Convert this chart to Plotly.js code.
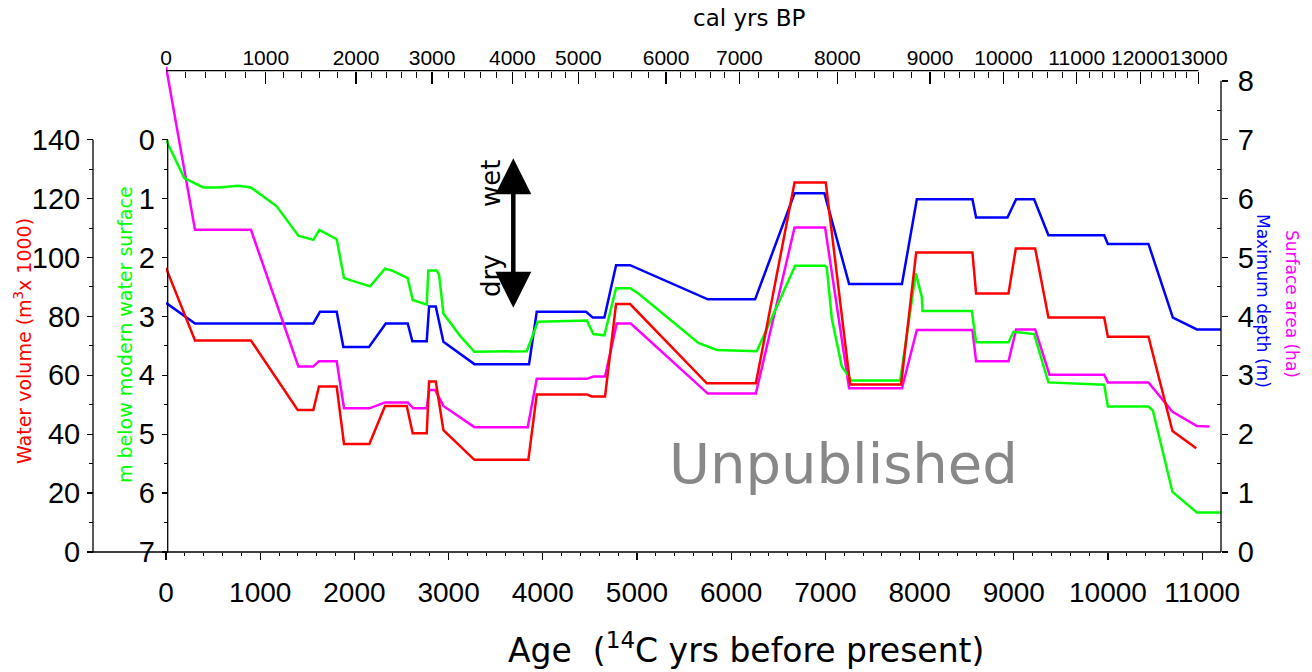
<!DOCTYPE html>
<html><head><meta charset="utf-8">
<script src="https://cdn.plot.ly/plotly-3.0.1.min.js"></script>
<style>html,body{margin:0;padding:0;background:#fff;} #chart{width:1312px;height:672px;}</style>
</head><body><div id="chart"></div>
<script>
// ---------------- data (ages in 14C yrs BP) ----------------
const redAge = [0, 308, 902, 1398, 1564, 1624, 1812, 1890, 2159, 2325, 2556, 2619, 2768, 2793, 2864, 2945, 3274, 3847, 3936, 4467, 4520, 4661, 4778, 4927, 5741, 6262, 6673, 7004, 7263, 7804, 7964, 8561, 8600, 8944, 9022, 9227, 9368, 9960, 9999, 10430, 10685, 10937];
const redVolume = [96.5, 71.8, 71.8, 48.2, 48.2, 56.2, 56.2, 36.7, 36.7, 49.6, 49.6, 40.3, 40.3, 57.9, 57.9, 41.4, 31.3, 31.3, 53.5, 53.5, 52.8, 52.8, 84.2, 84.2, 57.3, 57.3, 125.5, 125.5, 56.9, 56.9, 101.7, 101.7, 87.8, 87.8, 103.1, 103.1, 79.6, 79.6, 73.1, 73.1, 41.1, 35.2];

const greenAge = [0, 194, 396, 555, 768, 902, 1175, 1405, 1564, 1628, 1812, 1890, 2166, 2325, 2396, 2566, 2619, 2768, 2785, 2874, 2899, 2945, 3122, 3274, 3830, 3947, 4467, 4537, 4654, 4778, 4927, 5015, 5652, 5847, 6272, 6679, 6997, 7015, 7068, 7174, 7280, 7794, 7960, 8024, 8031, 8555, 8600, 8944, 8997, 9216, 9368, 9960, 9999, 10430, 10477, 10685, 10944, 11200];
const greenBelow = [0, 0.65, 0.81, 0.81, 0.78, 0.81, 1.13, 1.63, 1.70, 1.53, 1.69, 2.35, 2.49, 2.19, 2.22, 2.35, 2.72, 2.80, 2.22, 2.22, 2.29, 2.95, 3.33, 3.60, 3.59, 3.09, 3.07, 3.30, 3.32, 2.52, 2.52, 2.61, 3.45, 3.57, 3.59, 2.14, 2.14, 2.17, 3.03, 3.85, 4.09, 4.09, 2.27, 2.67, 2.91, 2.91, 3.44, 3.44, 3.26, 3.30, 4.12, 4.16, 4.53, 4.53, 4.60, 5.98, 6.33, 6.33];

const blueAge = [0, 308, 1564, 1635, 1812, 1883, 2155, 2333, 2566, 2615, 2768, 2793, 2864, 2945, 3274, 3854, 3936, 4460, 4531, 4654, 4778, 4927, 5752, 6254, 6673, 6990, 7252, 7813, 7971, 8561, 8600, 8933, 9025, 9216, 9368, 9960, 9999, 10430, 10689, 10944, 11200];
const blueDepth = [4.23, 3.88, 3.88, 4.08, 4.08, 3.48, 3.48, 3.88, 3.88, 3.58, 3.58, 4.17, 4.17, 3.57, 3.19, 3.19, 4.08, 4.08, 3.98, 3.98, 4.87, 4.87, 4.29, 4.29, 6.09, 6.09, 4.55, 4.55, 5.99, 5.99, 5.68, 5.68, 5.99, 5.99, 5.38, 5.38, 5.23, 5.23, 3.98, 3.78, 3.78];

const magentaAge = [0, 308, 902, 1405, 1564, 1624, 1812, 1890, 2159, 2325, 2566, 2626, 2768, 2793, 2856, 2945, 3274, 3840, 3936, 4467, 4537, 4661, 4785, 4934, 5752, 6262, 6673, 6997, 7252, 7813, 7971, 8561, 8600, 8944, 9025, 9227, 9379, 9960, 9999, 10430, 10685, 10944, 11078];
const magentaArea = [8.24, 5.47, 5.47, 3.15, 3.15, 3.24, 3.24, 2.44, 2.44, 2.54, 2.54, 2.44, 2.44, 2.75, 2.75, 2.48, 2.12, 2.12, 2.94, 2.94, 2.98, 2.98, 3.88, 3.88, 2.69, 2.69, 5.51, 5.51, 2.78, 2.78, 3.77, 3.77, 3.24, 3.24, 3.78, 3.78, 3.01, 3.01, 2.88, 2.88, 2.38, 2.14, 2.13];

// tick labels
const ageTicks = [0, 1000, 2000, 3000, 4000, 5000, 6000, 7000, 8000, 9000, 10000, 11000];
const calLabels = ['0','1000','2000','3000','4000','5000','6000','7000','8000','9000','10000','11000','12000','13000'];
const calTickAge = [0, 1059, 2017, 2825, 3677, 4378, 5309, 6087, 7128, 8112, 8890, 9669, 10342, 10961];
const volumeTicks = [0, 20, 40, 60, 80, 100, 120, 140];
const belowTicks = [0, 1, 2, 3, 4, 5, 6, 7];
const rightTicks = [0, 1, 2, 3, 4, 5, 6, 7, 8];

// ---------------- layout helpers ----------------
const ML = 93, MR = 91, MT = 62, MB = 120;
const PW = 1312 - ML - MR, PH = 672 - MT - MB;
const pX = p => (p - ML) / PW;
const pY = p => (672 - MB - p) / PH;
const RIGHT_MAX = 8.32;
const XMAX = 11200;

// minor tick positions (decoration only)
const ageMinor = [];
for (let a = 200; a < 11000; a += 200) if (a % 1000) ageMinor.push(a);
const calMinor = [];
for (let i = 0; i < calTickAge.length - 1; i++) {
  for (let k = 1; k < 5; k++) calMinor.push(calTickAge[i] + (calTickAge[i+1] - calTickAge[i]) * k / 5);
}
const half = (n) => { const r = []; for (let v = 0.5; v < n; v += 1) r.push(v); return r; };

const TF = 'Liberation Sans, Arial, sans-serif';
const HF = 'DejaVu Sans, Verdana, sans-serif';
const BLK = '#000000';

const lineOf = (c) => ({color: c, width: 2.5});
const traces = [
  {x: blueAge, y: blueDepth, xaxis: 'x', yaxis: 'y', mode: 'lines', line: lineOf('#0000ff'), name: 'Maximum depth (m)', hoverinfo: 'skip'},
  {x: magentaAge, y: magentaArea, xaxis: 'x', yaxis: 'y', mode: 'lines', line: lineOf('#ff00ff'), name: 'Surface area (ha)', hoverinfo: 'skip'},
  {x: greenAge, y: greenBelow, xaxis: 'x', yaxis: 'y2', mode: 'lines', line: lineOf('#00ff00'), name: 'm below modern water surface', hoverinfo: 'skip'},
  {x: redAge, y: redVolume, xaxis: 'x', yaxis: 'y3', mode: 'lines', line: lineOf('#ff0000'), name: 'Water volume', hoverinfo: 'skip'}
];

const common = {showgrid: false, zeroline: false, showline: false, fixedrange: true, tickcolor: BLK, tickwidth: 1.3, tickangle: 0};

const layout = {
  width: 1312, height: 672,
  margin: {l: ML, r: MR, t: MT, b: MB, pad: 0},
  paper_bgcolor: '#ffffff', plot_bgcolor: '#ffffff',
  showlegend: false,
  xaxis: Object.assign({}, common, {
    domain: [pX(166), 1], range: [0, XMAX], anchor: 'y',
    tickmode: 'array', tickvals: ageTicks, ticktext: ageTicks.map(String),
    ticks: 'outside', ticklen: 7,
    minor: {tickmode: 'array', tickvals: ageMinor, ticks: 'outside', ticklen: 3, tickcolor: BLK, tickwidth: 1},
    tickfont: {family: TF, size: 28, color: BLK}, ticklabelstandoff: 8
  }),
  xaxis3: Object.assign({}, common, {
    overlaying: 'x', side: 'bottom', anchor: 'y', range: [0, XMAX],
    tickmode: 'array', tickvals: ageTicks, ticks: 'inside', ticklen: 7, showticklabels: false
  }),
  xaxis2: Object.assign({}, common, {
    overlaying: 'x', side: 'top', anchor: 'free', position: pY(70.7), range: [0, XMAX],
    tickmode: 'array', tickvals: calTickAge, ticktext: calLabels,
    ticks: 'inside', ticklen: 12,
    minor: {tickmode: 'array', tickvals: calMinor, ticks: 'inside', ticklen: 6, tickcolor: BLK, tickwidth: 1},
    tickfont: {family: TF, size: 21, color: BLK}, ticklabelstandoff: 2
  }),
  yaxis: Object.assign({}, common, {
    side: 'right', anchor: 'x', range: [0, RIGHT_MAX],
    tickmode: 'array', tickvals: rightTicks, ticktext: rightTicks.map(String),
    ticks: 'outside', ticklen: 6,
    minor: {tickmode: 'array', tickvals: half(8), ticks: 'inside', ticklen: 4, tickcolor: BLK, tickwidth: 1},
    tickfont: {family: TF, size: 29, color: BLK}, ticklabelstandoff: 4
  }),
  yaxis4: Object.assign({}, common, {
    overlaying: 'y', side: 'right', anchor: 'x', range: [0, RIGHT_MAX],
    tickmode: 'array', tickvals: rightTicks, ticks: 'inside', ticklen: 6, showticklabels: false
  }),
  yaxis2: Object.assign({}, common, {
    overlaying: 'y', side: 'left', anchor: 'free', position: pX(167.7), range: [7, 7 - RIGHT_MAX],
    tickmode: 'array', tickvals: belowTicks, ticktext: belowTicks.map(String),
    ticks: 'outside', ticklen: 6,
    minor: {tickmode: 'array', tickvals: half(7), ticks: 'outside', ticklen: 4, tickcolor: BLK, tickwidth: 1},
    tickfont: {family: TF, size: 29, color: BLK}, ticklabelstandoff: 1
  }),
  yaxis5: Object.assign({}, common, {
    overlaying: 'y', side: 'left', anchor: 'free', position: pX(167.7), range: [7, 7 - RIGHT_MAX],
    tickmode: 'array', tickvals: belowTicks, ticks: 'inside', ticklen: 7, showticklabels: false
  }),
  yaxis3: Object.assign({}, common, {
    overlaying: 'y', side: 'left', anchor: 'free', position: 0, range: [0, RIGHT_MAX * 20],
    tickmode: 'array', tickvals: volumeTicks, ticktext: volumeTicks.map(String),
    ticks: 'outside', ticklen: 6,
    minor: {tickmode: 'array', tickvals: volumeTicks.slice(0, -1).map(v => v + 10), ticks: 'outside', ticklen: 4, tickcolor: BLK, tickwidth: 1},
    tickfont: {family: TF, size: 29, color: BLK}, ticklabelstandoff: 1
  }),
  yaxis6: Object.assign({}, common, {
    overlaying: 'y', side: 'left', anchor: 'free', position: 0, range: [0, RIGHT_MAX * 20],
    tickmode: 'array', tickvals: volumeTicks, ticks: 'inside', ticklen: 7, showticklabels: false
  }),
  shapes: [
    {type: 'line', xref: 'paper', yref: 'y3', x0: 0, x1: 0, y0: 0, y1: 140, line: {color: BLK, width: 1.3}},
    {type: 'line', xref: 'paper', yref: 'y2', x0: pX(167.7), x1: pX(167.7), y0: 7, y1: 0, line: {color: BLK, width: 1.3}},
    {type: 'line', xref: 'paper', yref: 'y', x0: 1, x1: 1, y0: 0, y1: 8, line: {color: BLK, width: 1.3}},
    {type: 'line', xref: 'paper', yref: 'paper', x0: 0, x1: 1, y0: 0, y1: 0, line: {color: BLK, width: 1.3}},
    {type: 'line', xref: 'x2', yref: 'paper', x0: 0, x1: calTickAge[calTickAge.length - 1], y0: pY(70.7), y1: pY(70.7), line: {color: BLK, width: 1.3}}
  ],
  annotations: [
    {text: 'cal yrs BP', xref: 'paper', yref: 'paper', x: pX(749), y: pY(18), showarrow: false, xanchor: 'center', yanchor: 'middle', font: {family: HF, size: 23, color: BLK}},
    {text: 'Age\u00a0\u00a0(<sup>14</sup>C yrs before present)', xref: 'paper', yref: 'paper', x: pX(746), y: pY(648), showarrow: false, xanchor: 'center', yanchor: 'middle', font: {family: HF, size: 33, color: BLK}},
    {text: 'Water volume (m<sup>3</sup>x 1000)', xref: 'paper', yref: 'paper', x: pX(23), y: pY(341), showarrow: false, textangle: -90, xanchor: 'center', yanchor: 'middle', font: {family: HF, size: 19, color: '#ff0000'}},
    {text: 'm below modern water surface', xref: 'paper', yref: 'paper', x: pX(125), y: pY(335), showarrow: false, textangle: -90, xanchor: 'center', yanchor: 'middle', font: {family: HF, size: 19, color: '#00ff00'}},
    {text: 'Maximum depth (m)', xref: 'paper', yref: 'paper', x: pX(1263), y: pY(301), showarrow: false, textangle: 90, xanchor: 'center', yanchor: 'middle', font: {family: HF, size: 17, color: '#0000ff'}},
    {text: 'Surface area (ha)', xref: 'paper', yref: 'paper', x: pX(1292), y: pY(304), showarrow: false, textangle: 90, xanchor: 'center', yanchor: 'middle', font: {family: HF, size: 17, color: '#ff00ff'}},
    {text: 'Unpublished', xref: 'paper', yref: 'paper', x: pX(843), y: pY(463), showarrow: false, xanchor: 'center', yanchor: 'middle', font: {family: HF, size: 56, color: '#888888'}},
    {text: 'wet', xref: 'paper', yref: 'paper', x: pX(491), y: pY(184), showarrow: false, textangle: -90, xanchor: 'center', yanchor: 'middle', font: {family: HF, size: 26, color: BLK}},
    {text: 'dry', xref: 'paper', yref: 'paper', x: pX(491), y: pY(276), showarrow: false, textangle: -90, xanchor: 'center', yanchor: 'middle', font: {family: HF, size: 26, color: BLK}},
    {text: '', xref: 'paper', yref: 'paper', x: pX(513.3), y: pY(158.3), ax: 0, ay: 151, showarrow: true,
     arrowside: 'end+start', arrowhead: 2, startarrowhead: 2, arrowsize: 1.6, startarrowsize: 1.6, arrowwidth: 4.5, arrowcolor: BLK, standoff: 0, startstandoff: 0}
  ]
};

Plotly.newPlot('chart', traces, layout, {displayModeBar: false, staticPlot: true});
</script>
</body></html>
